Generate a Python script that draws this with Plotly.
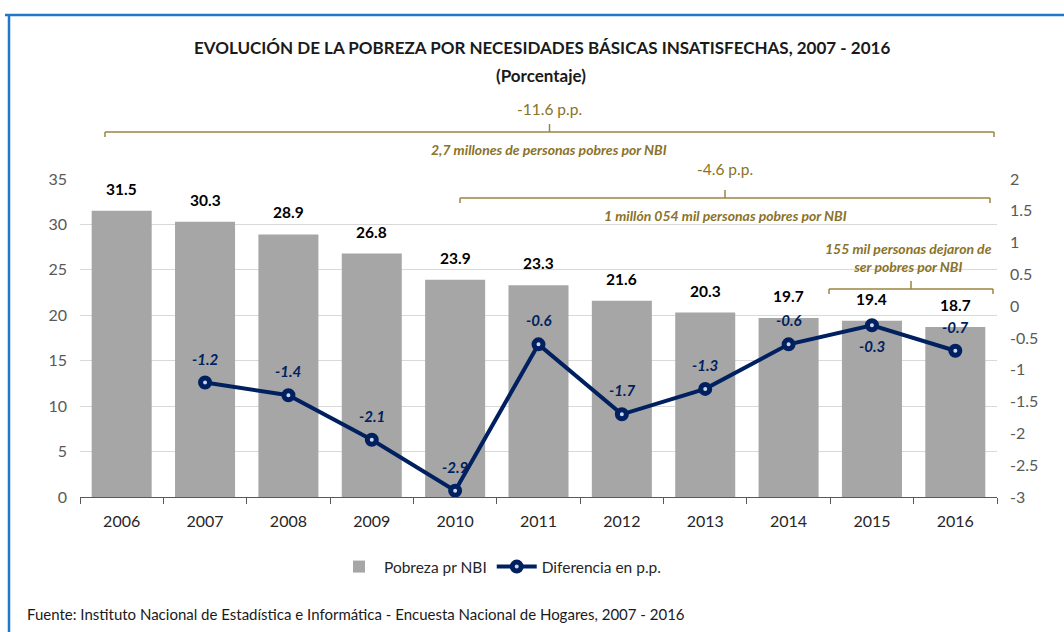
import plotly.graph_objects as go

# ---------------- data ----------------
years = ["2006", "2007", "2008", "2009", "2010", "2011", "2012", "2013", "2014", "2015", "2016"]
pobreza = [31.5, 30.3, 28.9, 26.8, 23.9, 23.3, 21.6, 20.3, 19.7, 19.4, 18.7]
dif_years = ["2007", "2008", "2009", "2010", "2011", "2012", "2013", "2014", "2015", "2016"]
diferencia = [-1.2, -1.4, -2.1, -2.9, -0.6, -1.7, -1.3, -0.6, -0.3, -0.7]
dif_label_side = ["above", "above", "above", "above", "above", "above", "above", "above", "below", "above"]

y1_ticks = [0, 5, 10, 15, 20, 25, 30, 35]
y2_ticks = [-3, -2.5, -2, -1.5, -1, -0.5, 0, 0.5, 1, 1.5, 2]
y2_ticktext = ["-3", "-2.5", "-2", "-1.5", "-1", "-0.5", "0", "0.5", "1", "1.5", "2"]

title_1 = "EVOLUCIÓN DE LA POBREZA POR NECESIDADES BÁSICAS INSATISFECHAS, 2007 - 2016"
title_2 = "(Porcentaje)"
source = "Fuente: Instituto Nacional de Estadística e Informática - Encuesta Nacional de Hogares, 2007 - 2016"
brackets = [
    {"top": "-11.6 p.p.", "bottom": "2,7 millones de personas pobres por NBI"},
    {"top": "-4.6 p.p.", "bottom": "1 millón 054 mil personas pobres por NBI"},
    {"top": "155 mil personas dejaron de<br>ser pobres por NBI", "bottom": None},
]

# ---------------- layout helpers ----------------
W, H = 1064, 632
L, R, T, B = 80, 997, 179, 497
FONT = "Lato, Carlito, 'Open Sans', sans-serif"
NAVY = "#002060"
GOLD = "#9A8540"
GOLD_TXT = "#8A7229"


def px(X):
    return (X - L) / (R - L)


def py(Y):
    return (B - Y) / (B - T)


def note(X, Y, text, size, color, xanchor="center"):
    return dict(x=px(X), y=py(Y), xref="paper", yref="paper", text=text, showarrow=False,
                xanchor=xanchor, yanchor="middle", font=dict(size=size, color=color, family=FONT))


fig = go.Figure()

fig.add_trace(go.Bar(
    x=years, y=pobreza, name="Pobreza pr NBI",
    marker=dict(color="#A6A6A6", line=dict(width=0)),
    yaxis="y",
))
fig.add_trace(go.Scatter(
    x=dif_years, y=diferencia, name="Diferencia en p.p.",
    mode="lines+markers", yaxis="y2",
    line=dict(color=NAVY, width=4),
    marker=dict(size=9, color="#C9D6EE", line=dict(color=NAVY, width=5)),
))

annotations = []
# bar value labels
for yr, v in zip(years, pobreza):
    annotations.append(dict(x=years.index(yr), y=v, xref="x", yref="y", text=f"<b>{v:.1f}</b>",
                            showarrow=False, yshift=22, xanchor="center", yanchor="middle",
                            font=dict(size=15.5, color="#000000", family=FONT)))
# line value labels
for yr, v, side in zip(dif_years, diferencia, dif_label_side):
    annotations.append(dict(x=years.index(yr), y=v, xref="x", yref="y2", text=f"<i><b>{v:.1f}</b></i>",
                            showarrow=False, yshift=24 if side == "above" else -21,
                            xanchor="center", yanchor="middle",
                            font=dict(size=15, color=NAVY, family=FONT)))

# titles and source
annotations.append(note(542, 47, f"<b>{title_1}</b>", 17, "#1A1A1A"))
annotations.append(note(541, 75, f"<b>{title_2}</b>", 17, "#1A1A1A"))
annotations.append(note(25, 614, source, 15, "#1A1A1A", xanchor="left"))

shapes = []


def bracket(x0, x1, Y, tick_top, hook=5):
    xc = (x0 + x1) / 2
    ln = dict(color=GOLD, width=1.5)
    return [
        dict(type="line", xref="paper", yref="paper", x0=px(x0), x1=px(x1), y0=py(Y), y1=py(Y), line=ln),
        dict(type="line", xref="paper", yref="paper", x0=px(x0), x1=px(x0), y0=py(Y), y1=py(Y + hook), line=ln),
        dict(type="line", xref="paper", yref="paper", x0=px(x1), x1=px(x1), y0=py(Y), y1=py(Y + hook), line=ln),
        dict(type="line", xref="paper", yref="paper", x0=px(xc), x1=px(xc), y0=py(Y), y1=py(tick_top), line=ln),
    ]


shapes += bracket(105, 994, 132, 124)
shapes += bracket(460, 990, 198, 190)
shapes += bracket(829, 993, 289, 281)

annotations.append(note(549, 109, brackets[0]["top"], 15.5, GOLD_TXT))
annotations.append(note(549, 150, f"<i><b>{brackets[0]['bottom']}</b></i>", 14, GOLD_TXT))
annotations.append(note(725, 169, brackets[1]["top"], 15.5, GOLD_TXT))
annotations.append(note(725, 215, f"<i><b>{brackets[1]['bottom']}</b></i>", 14, GOLD_TXT))
annotations.append(note(908, 257,
                        f"<i><b>{brackets[2]['top'].replace('<br>', '</b></i><br><i><b>')}</b></i>",
                        14, GOLD_TXT))

# outer blue frame
shapes.append(dict(type="line", xref="paper", yref="paper", x0=px(5), x1=px(W + 5), y0=py(15), y1=py(15),
                   line=dict(color="#1F78C8", width=2.5)))
shapes.append(dict(type="line", xref="paper", yref="paper", x0=px(9), x1=px(9), y0=py(15), y1=py(H + 5),
                   line=dict(color="#1F78C8", width=2.5)))

fig.update_layout(
    width=W, height=H,
    margin=dict(l=L, r=W - R, t=T, b=H - B, pad=0),
    paper_bgcolor="white", plot_bgcolor="white",
    font=dict(family=FONT, size=15, color="#262626"),
    bargap=0.28,
    showlegend=True,
    legend=dict(orientation="h", x=px(500), xanchor="center", y=py(567), yanchor="middle",
                font=dict(size=15.5, color="#262626", family=FONT), bgcolor="rgba(0,0,0,0)",
                itemwidth=40, tracegroupgap=0),
    xaxis=dict(type="category", range=[-0.5, len(years) - 0.5], autorange=False,
               showline=True, linecolor="#595959", linewidth=1,
               ticks="outside", tickson="boundaries", ticklen=6, tickcolor="#595959",
               ticklabelstandoff=10,
               tickfont=dict(size=16, color="#262626", family=FONT), showgrid=False, fixedrange=True),
    yaxis=dict(range=[0, 35], tickvals=y1_ticks, showgrid=True, gridcolor="#D9D9D9", gridwidth=1,
               zeroline=False, showline=False, ticks="", ticklabelstandoff=12,
               tickfont=dict(size=16, color="#595959", family=FONT)),
    yaxis2=dict(range=[-3, 2], overlaying="y", side="right", tickvals=y2_ticks, ticktext=y2_ticktext,
                showgrid=False, zeroline=False, showline=False, ticks="", ticklabelstandoff=12,
                tickfont=dict(size=16, color="#595959", family=FONT)),
    annotations=annotations,
    shapes=shapes,
)

fig.write_html("out.html", post_script="document.body.style.margin='0';",
               config={"displayModeBar": False})
